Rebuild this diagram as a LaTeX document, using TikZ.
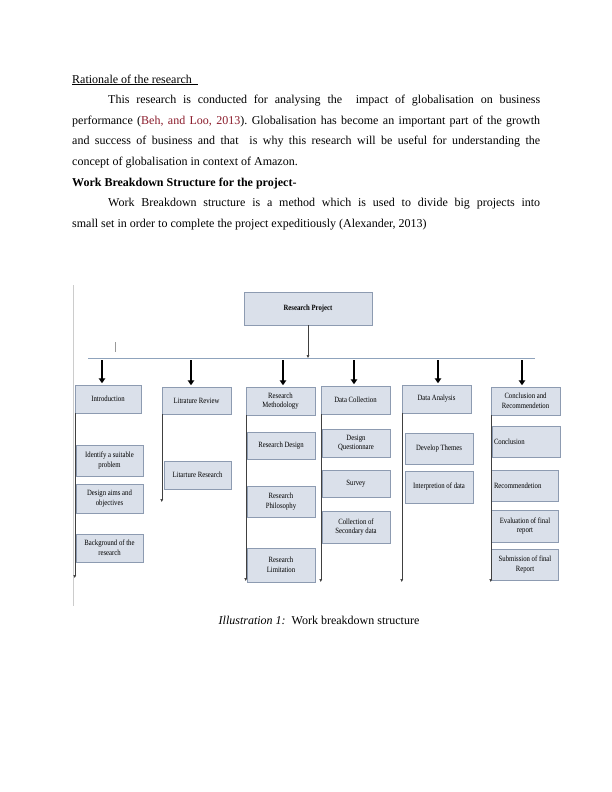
\documentclass[tikz,border=0pt]{standalone}
\usepackage{fontspec}
\setmainfont{Liberation Serif}
\newfontfamily\boxfont{Liberation Serif}[FakeStretch=0.84]
\usetikzlibrary{arrows.meta}
\definecolor{boxfill}{HTML}{DAE0EA}
\definecolor{boxline}{HTML}{8D9BB1}
\definecolor{busline}{HTML}{8FA3BC}
\definecolor{citered}{HTML}{8B1C2C}

\begin{document}
\begin{tikzpicture}[x=1pt, y=-1pt,
    wbsbox/.style={draw=boxline, fill=boxfill, line width=0.5pt, align=center,
      inner sep=1pt, font=\boxfont\fontsize{8}{9.6}\selectfont},
    lvlone/.style={wbsbox, minimum width=69pt, minimum height=28pt},
    subbox/.style={wbsbox, minimum width=67pt, minimum height=30pt},
    bigarrow/.style={-{Triangle[length=5pt,width=6.5pt]}, line width=2.2pt, black},
    link/.style={-{Triangle[length=3pt,width=2.6pt]}, line width=0.5pt, black!75},
  ]
    \useasboundingbox[fill=white] (0,0) rectangle (612,792);

    % 1. Phần văn bản phía trên
    \node[anchor=base west, text width=468pt, inner sep=0pt, align=justify,
      font=\fontsize{12}{20.6}\selectfont\frenchspacing] (body) at (72,83) {%
      \underline{Rationale of the research\ \ }\par
      \hspace*{36pt}This research is conducted for analysing the\ \ impact of globalisation on business\linebreak
      performance ({\color{citered}Beh, and Loo, 2013}). Globalisation has become an important part of the growth\linebreak
      and success of business and that\ \ is why this research will be useful for understanding the\linebreak
      concept of globalisation in context of Amazon.\par
      \textbf{Work Breakdown Structure for the project-}\par
      \hspace*{36pt}Work Breakdown structure is a method which is used to divide big projects into\linebreak
      small set in order to complete the project expeditiously (Alexander, 2013)\par};

    % 2. Khung và các đường phụ
    \draw[black!20, line width=0.6pt] (73,285) -- (73,606);
    \draw[black!40, line width=0.4pt] (115,342) -- (115,352);

    % 3. Ô gốc và đường ngang
    \node[wbsbox, minimum width=128pt, minimum height=33pt,
      font=\boxfont\fontsize{8}{9.6}\selectfont\bfseries] (proj) at (308,308.5) {Research Project};
    \coordinate (busL) at (88,358);
    \coordinate (busR) at (535,358);
    \draw[busline, line width=0.6pt] (busL) -- (busR);
    \draw[link] (proj.south) -- (proj.south |- busL);

    % 4. Các ô cấp 1
    \node[lvlone, minimum width=66pt] (intro) at (108,399) {Introduction};
    \node[lvlone, minimum height=27pt] (litrev) at (196.5,400.5) {Litrature Review};
    \node[lvlone] (resmeth) at (280.5,401) {Research\\Methodology};
    \node[lvlone] (datacol) at (355.5,400) {Data Collection};
    \node[lvlone] (dataan) at (436.5,399) {Data Analysis};
    \node[lvlone] (concl) at (525.5,401) {Conclusion and\\Recommendetion};

    \foreach \x/\n in {102/intro, 191/litrev, 283/resmeth, 354/datacol, 438/dataan, 522/concl}
        \draw[bigarrow, shorten >=1.5pt] (\x,360) -- (\x,0 |- \n.north);

    % 5. Các ô cấp 2
    \node[subbox, minimum height=31pt] (ident) at (109.5,460.5) {Identify a suitable\\problem};
    \node[subbox, minimum height=29pt] (aims) at (109.5,498.5) {Design aims and\\objectives};
    \node[subbox, minimum height=28pt] (backg) at (109.5,548) {Background of the\\research};

    \node[subbox, minimum height=28pt] (litres) at (197.5,475) {Litarture Research};

    \node[subbox, minimum width=68pt, minimum height=27pt] (rdesign) at (281,445.5) {Research Design};
    \node[subbox, minimum width=68pt, minimum height=31pt] (rphil) at (281,501.5) {Research\\Philosophy};
    \node[subbox, minimum width=68pt, minimum height=34pt] (rlimit) at (281,565) {Research\\Limitation};

    \node[subbox, minimum width=68pt, minimum height=28pt] (dquest) at (356,443) {Design\\Questionnare};
    \node[subbox, minimum width=68pt, minimum height=27pt] (survey) at (356,483.5) {Survey};
    \node[subbox, minimum width=68pt, minimum height=32pt] (secdata) at (356,527) {Collection of\\Secondary data};

    \node[subbox, minimum width=68pt, minimum height=31pt] (themes) at (439,448.5) {Develop Themes};
    \node[subbox, minimum width=68pt, minimum height=32pt] (interp) at (439,487) {Interpretion of data};

    \node[subbox, minimum width=68pt, minimum height=31pt, align=left, text width=64pt] (conc) at (526,441.5) {Conclusion};
    \node[subbox, minimum height=31pt, align=left, text width=62pt] (recom) at (525,485.5) {Recommendetion};
    \node[subbox, minimum height=32pt] (evalr) at (525,526) {Evaluation of final\\report};
    \node[subbox, minimum height=31pt] (submit) at (525,564.5) {Submission of final\\Report};

    % 6. Các đường dọc có mũi tên
    \foreach \n/\y in {intro/578, litrev/502, resmeth/581, datacol/582, dataan/582, concl/582}
        \draw[link] (\n.south west) -- (\n.south west |- 0,\y);

    % 7. Chú thích
    \node[anchor=base, inner sep=0pt, font=\fontsize{12}{14}\selectfont] (caption) at (319,624)
        {\textit{Illustration 1:}\ \ Work breakdown structure};
\end{tikzpicture}
\end{document}
